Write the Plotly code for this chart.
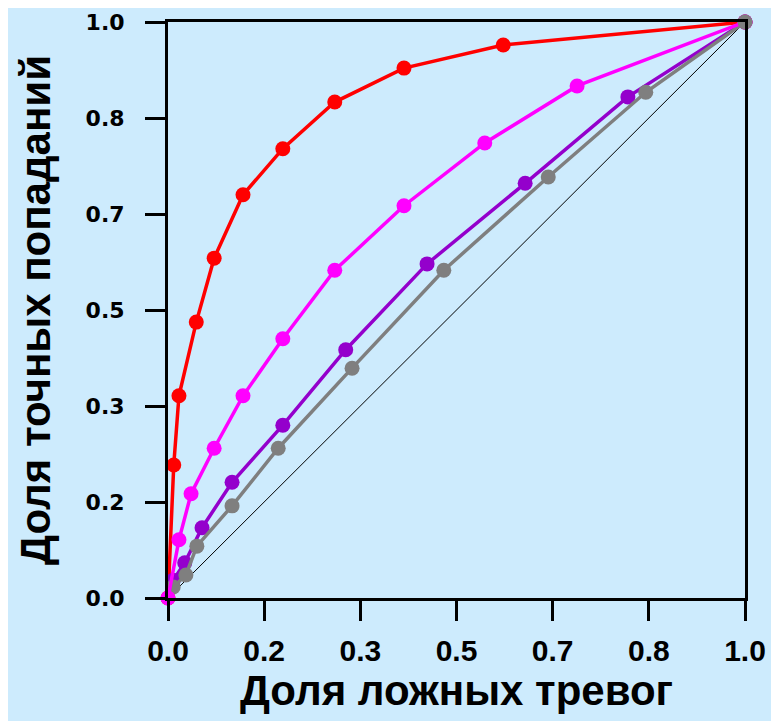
import plotly.graph_objects as go

tick_vals = [0, 1/6, 2/6, 3/6, 4/6, 5/6, 1]
tick_text = ["0.0", "0.2", "0.3", "0.5", "0.7", "0.8", "1.0"]

red_x = [0, 0.010, 0.019, 0.049, 0.080, 0.130, 0.199, 0.289, 0.409, 0.581, 1.0]
red_y = [0, 0.231, 0.351, 0.479, 0.590, 0.700, 0.780, 0.861, 0.920, 0.960, 1.0]

mag_x = [0, 0.019, 0.040, 0.080, 0.130, 0.199, 0.289, 0.409, 0.549, 0.709, 1.0]
mag_y = [0, 0.101, 0.181, 0.260, 0.351, 0.450, 0.569, 0.681, 0.790, 0.889, 1.0]

pur_x = [0.009, 0.029, 0.059, 0.111, 0.199, 0.308, 0.449, 0.619, 0.797, 1.0]
pur_y = [0.031, 0.061, 0.122, 0.201, 0.300, 0.431, 0.580, 0.720, 0.870, 1.0]

gray_x = [0.009, 0.031, 0.050, 0.111, 0.191, 0.319, 0.478, 0.659, 0.828, 1.0]
gray_y = [0.019, 0.040, 0.090, 0.160, 0.260, 0.399, 0.569, 0.731, 0.878, 1.0]

diag = [0, 1]

bg = "#cdebfd"

fig = go.Figure()
fig.add_trace(go.Scatter(x=diag, y=diag, mode="lines",
                         line=dict(color="black", width=1), cliponaxis=False))
series = [
    (red_x, red_y, "#ff0000"),
    (pur_x, pur_y, "#9400cc"),
    (gray_x, gray_y, "#7f7f7f"),
    (mag_x, mag_y, "#ff00ff"),
]
for xs, ys, c in series:
    fig.add_trace(go.Scatter(x=xs, y=ys, mode="lines+markers",
                             line=dict(color=c, width=3.5),
                             marker=dict(color=c, size=15),
                             cliponaxis=False))

fig.add_trace(go.Scatter(x=[gray_x[-1]], y=[gray_y[-1]], mode="markers",
                         marker=dict(color="#7f7f7f", size=15), cliponaxis=False))

axis_common = dict(
    range=[0, 1], tickvals=tick_vals, ticktext=["<b>%s</b>" % t for t in tick_text],
    showgrid=False, zeroline=False, showline=True, linecolor="black",
    linewidth=3, mirror=True, ticks="outside", ticklen=20, tickwidth=3,
    tickcolor="black", automargin=False,
)

sans = "Liberation Sans, Arial"

fig.update_layout(
    width=771, height=713,
    margin=dict(l=160, r=34, t=14, b=123),
    paper_bgcolor=bg, plot_bgcolor=bg,
    showlegend=False,
    xaxis=dict(**axis_common,
               ticklabelstandoff=4,
               tickfont=dict(family=sans, size=30, color="black"),
               title=dict(text="<b>Доля ложных тревог</b>", standoff=6,
                          font=dict(family=sans, size=42, color="black"))),
    yaxis=dict(**axis_common,
               ticklabelstandoff=16,
               tickfont=dict(family="DejaVu Sans", size=22, color="black", weight="bold"),
               title=dict(text="<b>Доля точных попаданий</b>", standoff=22,
                          font=dict(family=sans, size=42, color="black"))),
)

fig.write_html("out.html")
